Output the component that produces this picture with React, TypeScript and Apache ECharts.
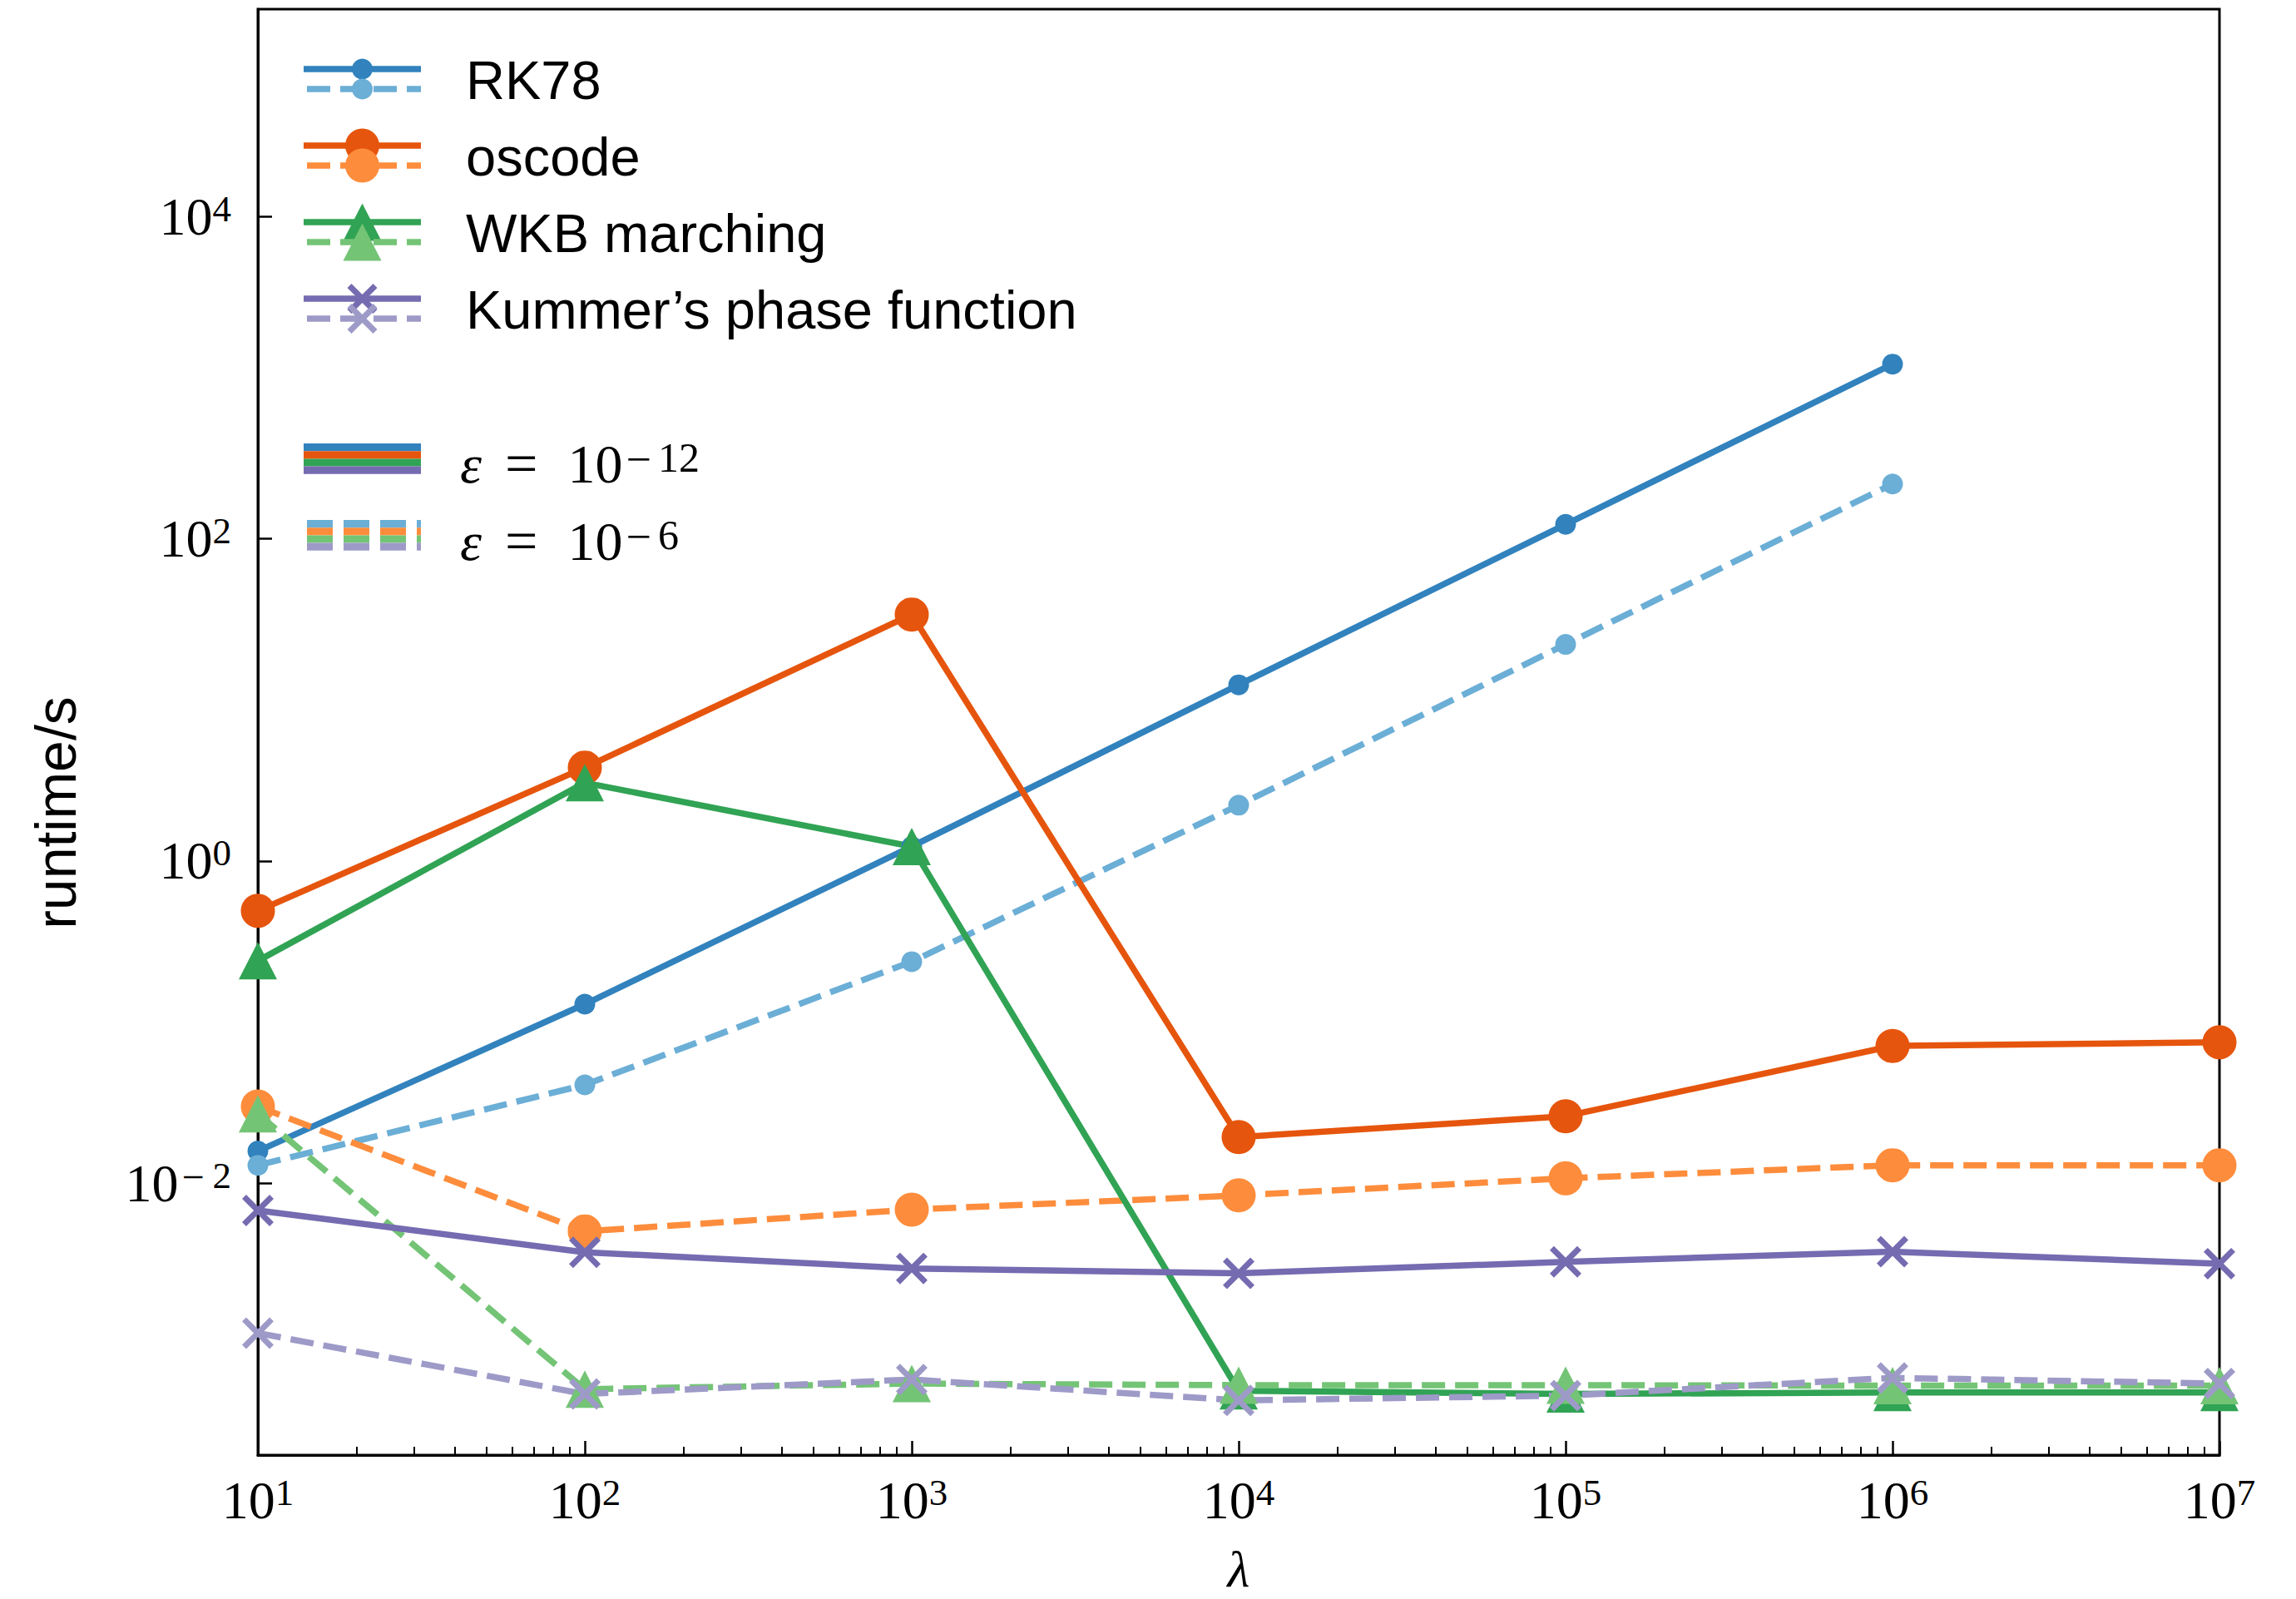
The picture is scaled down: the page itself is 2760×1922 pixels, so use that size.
import React, { useEffect, useRef } from "react";
import * as echarts from "echarts";

// ---------------- data ----------------
const lambdas = [10, 100, 1e3, 1e4, 1e5, 1e6, 1e7];

// runtime in seconds, eps = 1e-12 (solid) and eps = 1e-6 (dashed)
const rk78Tight = [0.0158, 0.129, 1.23, 12.4, 123, 1216];
const rk78Loose = [0.0129, 0.0407, 0.237, 2.22, 22.1, 219];
const oscodeTight = [0.49, 3.8, 33.9, 0.0193, 0.026, 0.071, 0.0748];
const oscodeLoose = [0.0299, 0.00501, 0.00684, 0.00839, 0.0107, 0.0129, 0.0129];
const wkbTight = [0.24, 3.06, 1.23, 0.000513, 0.00049, 0.000501, 0.000501];
const wkbLoose = [0.0269, 0.000525, 0.000569, 0.000556, 0.000556, 0.000552, 0.000552];
const kummerTight = [0.00676, 0.00372, 0.00295, 0.00275, 0.00324, 0.00375, 0.00316];
const kummerLoose = [0.00117, 0.00049, 0.000603, 0.000447, 0.000479, 0.000617, 0.000569];

const methodNames = ["RK78", "oscode", "WKB marching", "Kummer\u2019s phase function"];
const darkColors = ["#3182bd", "#e6550d", "#31a354", "#756bb1"];
const lightColors = ["#6baed6", "#fd8d3c", "#74c476", "#9e9ac8"];
const epsExponents = ["12", "6"]; // eps = 10^-12, 10^-6

const xTickExponents = [1, 2, 3, 4, 5, 6, 7];
const yTickExponents = [-2, 0, 2, 4];
const yLogMin = -3.689;
const yLogMax = 5.289;

// ---------------- styling ----------------
const SERIF = "'Liberation Serif', 'Times New Roman', serif";
const SANS = "'Liberation Sans', Arial, sans-serif";
const LW = 7.5;
const DASH = [28, 12];
const X_PATH =
  "path://M0,13L13,0L50,37L87,0L100,13L63,50L100,87L87,100L50,63L13,100L0,87L37,50Z";

const symbols: any[] = ["circle", "circle", "triangle", X_PATH];
const symbolSizes: any[] = [25, 41, [46, 45], 38];

const minorX: number[] = [];
for (let k = 1; k < 7; k++) {
  for (let m = 2; m <= 9; m++) minorX.push(k + Math.log10(m));
}

const toPoints = (vals: number[]) =>
  vals.map((v, i) => [Math.log10(lambdas[i]), Math.log10(v)]);

const powLabel = (exp: number) =>
  exp < 0 ? `{b|10}{m|\u2212}{s|${Math.abs(exp)}}` : `{b|10}{s|${exp}}`;

const tickRich = {
  b: { fontFamily: SERIF, fontSize: 64, lineHeight: 64, color: "#000" },
  s: { fontFamily: SERIF, fontSize: 45, lineHeight: 27, verticalAlign: "top", color: "#000" },
  m: {
    fontFamily: SERIF,
    fontSize: 48,
    lineHeight: 27,
    verticalAlign: "top",
    color: "#000",
    padding: [0, 10, 0, 4],
  },
};

function buildSeries() {
  const tight = [rk78Tight, oscodeTight, wkbTight, kummerTight];
  const loose = [rk78Loose, oscodeLoose, wkbLoose, kummerLoose];
  const out: any[] = [];
  for (let i = 0; i < 4; i++) {
    [
      { vals: tight[i], color: darkColors[i], dash: "solid" as any, tag: "tight" },
      { vals: loose[i], color: lightColors[i], dash: DASH as any, tag: "loose" },
    ].forEach((s) => {
      out.push({
        name: `${methodNames[i]} ${s.tag}`,
        type: "line",
        xAxisIndex: 0,
        yAxisIndex: 0,
        data: toPoints(s.vals),
        symbol: symbols[i],
        symbolSize: symbolSizes[i],
        showSymbol: true,
        showAllSymbol: true,
        clip: true,
        silent: true,
        lineStyle: { color: s.color, width: LW, type: s.dash, cap: "butt" },
        itemStyle: { color: s.color, borderWidth: 0 },
        emphasis: { disabled: true },
      });
    });
  }
  return out;
}

function markerGraphic(i: number, cx: number, cy: number, color: string): any[] {
  if (i === 0) return [{ type: "circle", shape: { cx, cy, r: 12.5 }, style: { fill: color } }];
  if (i === 1) return [{ type: "circle", shape: { cx, cy, r: 20.5 }, style: { fill: color } }];
  if (i === 2)
    return [
      {
        type: "polygon",
        shape: { points: [[cx, cy - 22.5], [cx - 23, cy + 22.5], [cx + 23, cy + 22.5]] },
        style: { fill: color },
      },
    ];
  const d = 15.5;
  return [
    { type: "line", shape: { x1: cx - d, y1: cy - d, x2: cx + d, y2: cy + d }, style: { stroke: color, lineWidth: 7, lineCap: "butt" } },
    { type: "line", shape: { x1: cx - d, y1: cy + d, x2: cx + d, y2: cy - d }, style: { stroke: color, lineWidth: 7, lineCap: "butt" } },
  ];
}

function buildLegend(): any[] {
  const x1 = 365;
  const x2 = 506;
  const mx = 435.5;
  const tx = 560;
  const row0 = 83;
  const step = 92;
  const pair = 24;
  const els: any[] = [];
  for (let i = 0; i < 4; i++) {
    const y = row0 + step * i;
    els.push({ type: "line", shape: { x1, y1: y, x2, y2: y }, style: { stroke: darkColors[i], lineWidth: LW } });
    els.push(...markerGraphic(i, mx, y, darkColors[i]));
    els.push({ type: "line", shape: { x1: 369, y1: y + pair, x2, y2: y + pair }, style: { stroke: lightColors[i], lineWidth: LW, lineDash: DASH } });
    els.push(...markerGraphic(i, mx, y + pair, lightColors[i]));
    els.push({
      type: "text",
      style: {
        text: methodNames[i],
        x: tx,
        y: y + pair / 2 + 1,
        fontFamily: SANS,
        fontSize: 65,
        fill: "#000",
        align: "left",
        verticalAlign: "middle",
      },
    });
  }
  // epsilon entries
  const stripe = 9.2;
  const solidTop = 533;
  const dashTop = 625;
  for (let c = 0; c < 4; c++) {
    els.push({ type: "rect", shape: { x: x1, y: solidTop + c * stripe, width: x2 - x1, height: stripe }, style: { fill: darkColors[c] } });
    const yy = dashTop + c * stripe + stripe / 2;
    els.push({ type: "line", shape: { x1: 369, y1: yy, x2, y2: yy }, style: { stroke: lightColors[c], lineWidth: stripe, lineDash: [31, 13] } });
  }
  const epsY = [557, 650];
  epsExponents.forEach((e, k) => {
    els.push({
      type: "text",
      style: {
        text: `{i|\u03b5}{e|=}{n|10}{m|\u2212}{s|${e}}`,
        x: 553,
        y: epsY[k],
        align: "left",
        verticalAlign: "middle",
        rich: {
          i: { fontFamily: SERIF, fontStyle: "italic", fontSize: 66, lineHeight: 64, color: "#000" },
          e: { fontFamily: SERIF, fontSize: 70, lineHeight: 64, color: "#000", padding: [0, 36, 0, 28] },
          n: { fontFamily: SERIF, fontSize: 66, lineHeight: 64, color: "#000" },
          m: { fontFamily: SERIF, fontSize: 54, lineHeight: 29, verticalAlign: "top", color: "#000", padding: [0, 8, 0, 4] },
          s: { fontFamily: SERIF, fontSize: 50, lineHeight: 29, verticalAlign: "top", color: "#000" },
        },
      },
    });
  });
  // y axis title
  els.push({
    type: "text",
    x: 67,
    y: 977,
    rotation: Math.PI / 2,
    style: {
      text: "runtime/s",
      x: 0,
      y: 0,
      fontFamily: SANS,
      fontSize: 68,
      fill: "#000",
      align: "center",
      verticalAlign: "middle",
    },
  });
  return els;
}

export default function App() {
  const ref = useRef<HTMLDivElement>(null);
  useEffect(() => {
    if (!ref.current) return;
    const chart = echarts.init(ref.current, null, { renderer: "svg" });
    const option: any = {
      animation: false,
      backgroundColor: "#fff",
      grid: {
        left: 310,
        right: 92,
        top: 11,
        bottom: 173,
        containLabel: false,
        outerBoundsMode: "none",
        show: true,
        borderColor: "#000",
        borderWidth: 3,
        backgroundColor: "transparent",
      },
      xAxis: [
        {
          type: "value",
          min: 1,
          max: 7,
          position: "bottom",
          axisLine: { show: true, onZero: false, lineStyle: { color: "#000", width: 3 } },
          axisTick: { show: true, inside: true, length: 17, customValues: xTickExponents, lineStyle: { color: "#000", width: 2.5 } },
          axisLabel: {
            show: true,
            customValues: xTickExponents,
            margin: 22,
            formatter: (v: number) => powLabel(Math.round(v)),
            rich: tickRich,
          },
          splitLine: { show: false },
          name: "\u03bb",
          nameLocation: "middle",
          nameGap: 114,
          nameTextStyle: {
            fontFamily: SERIF,
            fontStyle: "italic",
            fontSize: 62,
            lineHeight: 46,
            padding: 0,
            color: "#000",
          },
        },
        {
          type: "value",
          min: 1,
          max: 7,
          position: "bottom",
          axisLine: { show: false, onZero: false },
          axisTick: { show: true, inside: true, length: 10, customValues: minorX, lineStyle: { color: "#000", width: 2 } },
          axisLabel: { show: false },
          splitLine: { show: false },
        },
      ],
      yAxis: {
        type: "value",
        min: yLogMin,
        max: yLogMax,
        axisLine: { show: true, onZero: false, lineStyle: { color: "#000", width: 3 } },
        axisTick: { show: true, inside: true, length: 17, customValues: yTickExponents, lineStyle: { color: "#000", width: 2.5 } },
        axisLabel: {
          show: true,
          customValues: yTickExponents,
          margin: 32,
          formatter: (v: number) => powLabel(Math.round(v)),
          rich: tickRich,
        },
        splitLine: { show: false },
      },
      series: buildSeries(),
      graphic: buildLegend(),
    };
    chart.setOption(option);
    return () => chart.dispose();
  }, []);
  return (
    <div
      ref={ref}
      style={{ position: "fixed", left: 0, top: 0, width: 2760, height: 1922, background: "#fff" }}
    />
  );
}
